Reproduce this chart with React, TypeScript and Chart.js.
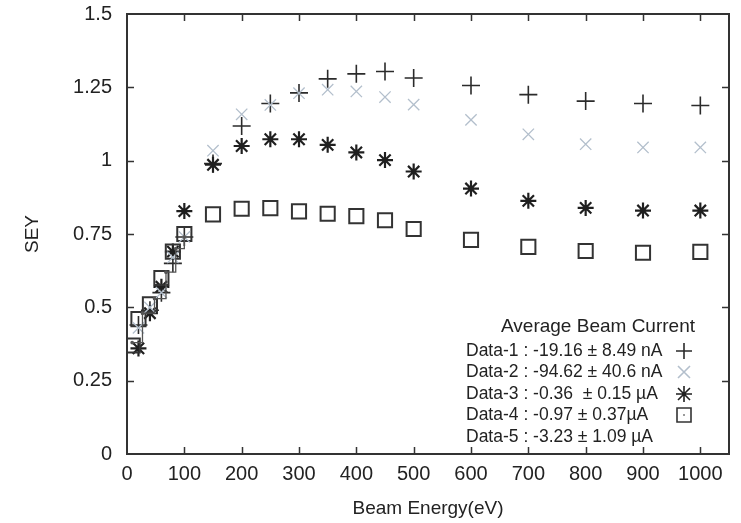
import React, { useEffect, useRef } from 'react';
import { Chart, registerables } from 'chart.js';

Chart.register(...registerables);

// Beam energies (eV)
const lowEnergy1 = [20, 40, 60, 80, 100];
const lowEnergy3 = [20, 40, 60, 80, 100];
const lowEnergy4 = [10, 20, 40, 60, 80, 100];
const highEnergy = [150, 200, 250, 300, 350, 400, 450, 500, 600, 700, 800, 900, 1000];

// SEY values
const data1Low = [0.44, 0.49, 0.55, 0.65, 0.74];
const data1High = [0.99, 1.118, 1.195, 1.231, 1.279, 1.296, 1.304, 1.282, 1.256, 1.225, 1.203, 1.195, 1.188];
const data2Low = [0.43, 0.5, 0.55, 0.67, 0.74];
const data2High = [1.034, 1.158, 1.19, 1.23, 1.242, 1.236, 1.217, 1.191, 1.139, 1.09, 1.056, 1.045, 1.045];
const data3Low = [0.36, 0.48, 0.57, 0.69, 0.828];
const data3High = [0.986, 1.05, 1.073, 1.073, 1.054, 1.028, 1.002, 0.963, 0.905, 0.863, 0.839, 0.83, 0.83];
const data4Low = [0.37, 0.46, 0.51, 0.6, 0.69, 0.75];
const data4High = [0.817, 0.836, 0.838, 0.827, 0.819, 0.811, 0.797, 0.767, 0.73, 0.706, 0.692, 0.686, 0.689];
const data5Energy = [9, 27, 48, 68, 85, 100];
const data5Sey = [0.38, 0.48, 0.53, 0.62, 0.7, 0.74];

const xTickValues = [0, 100, 200, 300, 400, 500, 600, 700, 800, 900, 1000];
const legendTitle = 'Average Beam Current';
const legendLabels = [
  'Data-1 : -19.16 \u00b1 8.49 nA',
  'Data-2 : -94.62 \u00b1 40.6 nA',
  'Data-3 : -0.36  \u00b1 0.15 \u00b5A',
  'Data-4 : -0.97 \u00b1 0.37\u00b5A',
  'Data-5 : -3.23 \u00b1 1.09 \u00b5A',
];

const C1 = '#2b2b2b';
const C2 = '#b3bfcc';
const C3 = '#1f1f1f';
const C4 = '#333333';
const C5 = '#555555';
const TEXT = '#222222';
const REG = "'Liberation Sans', Arial, sans-serif";

function pts(xs: number[], ys: number[]) {
  return xs.map((x, i) => ({ x, y: ys[i] }));
}

function drawMarker(ctx: CanvasRenderingContext2D, kind: string, x: number, y: number, color: string) {
  ctx.save();
  ctx.strokeStyle = color;
  ctx.lineWidth = 1.6;
  ctx.beginPath();
  if (kind === 'plus' || kind === 'star') {
    ctx.moveTo(x - 8, y); ctx.lineTo(x + 8, y);
    ctx.moveTo(x, y - 8); ctx.lineTo(x, y + 8);
  }
  if (kind === 'x' || kind === 'star') {
    const d = 6;
    ctx.moveTo(x - d, y - d); ctx.lineTo(x + d, y + d);
    ctx.moveTo(x - d, y + d); ctx.lineTo(x + d, y - d);
  }
  if (kind === 'square') {
    ctx.rect(x - 7, y - 7, 14, 14);
  }
  ctx.stroke();
  if (kind === 'square') {
    ctx.fillStyle = color;
    ctx.fillRect(x - 0.7, y - 0.7, 1.4, 1.4);
  }
  ctx.restore();
}

const framePlugin = {
  id: 'frameAndLegend',
  afterDraw(chart: any) {
    const { ctx, chartArea: a, scales } = chart;
    const xs = scales.x;
    const ys = scales.y;
    ctx.save();
    ctx.strokeStyle = '#333';
    ctx.lineWidth = 2;
    ctx.strokeRect(a.left, a.top, a.right - a.left, a.bottom - a.top);
    ctx.lineWidth = 1.5;
    ctx.beginPath();
    xs.ticks.forEach((t: any) => {
      const px = Math.round(xs.getPixelForValue(t.value)) + 0.5;
      if (px <= a.left + 2 || px >= a.right - 2) return;
      ctx.moveTo(px, a.bottom); ctx.lineTo(px, a.bottom - 7);
      ctx.moveTo(px, a.top); ctx.lineTo(px, a.top + 7);
    });
    ys.ticks.forEach((t: any) => {
      const py = Math.round(ys.getPixelForValue(t.value)) + 0.5;
      if (py <= a.top + 2 || py >= a.bottom - 2) return;
      ctx.moveTo(a.left, py); ctx.lineTo(a.left + 7, py);
      ctx.moveTo(a.right, py); ctx.lineTo(a.right - 7, py);
    });
    ctx.stroke();

    // legend
    ctx.fillStyle = TEXT;
    ctx.textBaseline = 'middle';
    ctx.font = `19px ${REG}`;
    ctx.textAlign = 'center';
    ctx.fillText(legendTitle, 598, 327);
    ctx.font = `17.5px ${REG}`;
    ctx.textAlign = 'left';
    const rowsY = [351, 372, 394, 415, 437];
    const kinds = ['plus', 'x', 'star', 'square', ''];
    const colors = [C1, C2, C3, C4, C5];
    legendLabels.forEach((lab, i) => {
      ctx.fillStyle = TEXT;
      ctx.fillText(lab, 466, rowsY[i]);
      if (kinds[i]) drawMarker(ctx, kinds[i], 684, rowsY[i], colors[i]);
    });
    ctx.restore();
  },
};

export default function App() {
  const ref = useRef<HTMLCanvasElement>(null);

  useEffect(() => {
    if (!ref.current) return;
    const chart = new Chart(ref.current, {
      type: 'scatter',
      data: {
        datasets: [
          {
            label: 'Data-5',
            data: pts(data5Energy, data5Sey),
            showLine: true,
            stepped: 'before',
            borderColor: C5,
            borderWidth: 1.3,
            pointRadius: 1.2,
            pointBackgroundColor: C5,
            pointBorderColor: C5,
          },
          {
            label: 'Data-2',
            data: pts([...lowEnergy1, ...highEnergy], [...data2Low, ...data2High]),
            pointStyle: 'crossRot',
            radius: 8,
            borderColor: C2,
            borderWidth: 1.3,
          },
          {
            label: 'Data-4',
            data: pts([...lowEnergy4, ...highEnergy], [...data4Low, ...data4High]),
            pointStyle: 'rect',
            radius: 10,
            borderColor: C4,
            backgroundColor: 'rgba(0,0,0,0)',
            borderWidth: 2,
          },
          {
            label: 'Data-3',
            data: pts([...lowEnergy3, ...highEnergy], [...data3Low, ...data3High]),
            pointStyle: 'star',
            radius: 8,
            borderColor: C3,
            borderWidth: 2.2,
          },
          {
            label: 'Data-1',
            data: pts([...lowEnergy1, ...highEnergy], [...data1Low, ...data1High]),
            pointStyle: 'cross',
            radius: 9,
            borderColor: C1,
            borderWidth: 1.6,
          },
        ],
      },
      options: {
        animation: false,
        responsive: false,
        maintainAspectRatio: false,
        layout: { padding: { left: 0, right: 2, top: 14, bottom: 0 } },
        plugins: { legend: { display: false }, tooltip: { enabled: false } },
        scales: {
          x: {
            type: 'linear',
            min: 0,
            max: 1050,
            grid: { display: false, drawTicks: false },
            border: { display: false },
            afterFit: (s: any) => { s.height = 69; s.paddingLeft = 0; s.paddingRight = 0; },
            afterBuildTicks: (s: any) => { s.ticks = xTickValues.map((v) => ({ value: v })); },
            ticks: {
              padding: 8,
              color: TEXT,
              font: { family: REG, size: 20 },
              maxRotation: 0,
              autoSkip: false,
              callback: (v: any) => String(Number(v)),
            },
            title: {
              display: true,
              text: 'Beam Energy(eV)',
              color: TEXT,
              font: { family: REG, size: 19 },
              padding: { top: 0, bottom: 3 },
            },
          },
          y: {
            type: 'linear',
            min: 0,
            max: 1.5,
            grid: { display: false, drawTicks: false },
            border: { display: false },
            afterFit: (s: any) => { s.width = 127; s.paddingTop = 0; s.paddingBottom = 0; },
            ticks: {
              stepSize: 0.25,
              padding: 15,
              color: TEXT,
              font: { family: REG, size: 20 },
              callback: (v: any) => String(Number(v)),
            },
            title: {
              display: true,
              text: 'SEY',
              color: TEXT,
              font: { family: REG, size: 19 },
              padding: { top: 21, bottom: 0 },
            },
          },
        },
      },
      plugins: [framePlugin],
    });
    return () => chart.destroy();
  }, []);

  return (
    <div style={{ position: 'absolute', left: 0, top: 0, width: 741, height: 523, background: '#fff' }}>
      <canvas ref={ref} width={741} height={523} style={{ display: 'block', width: 741, height: 523 }} />
    </div>
  );
}
